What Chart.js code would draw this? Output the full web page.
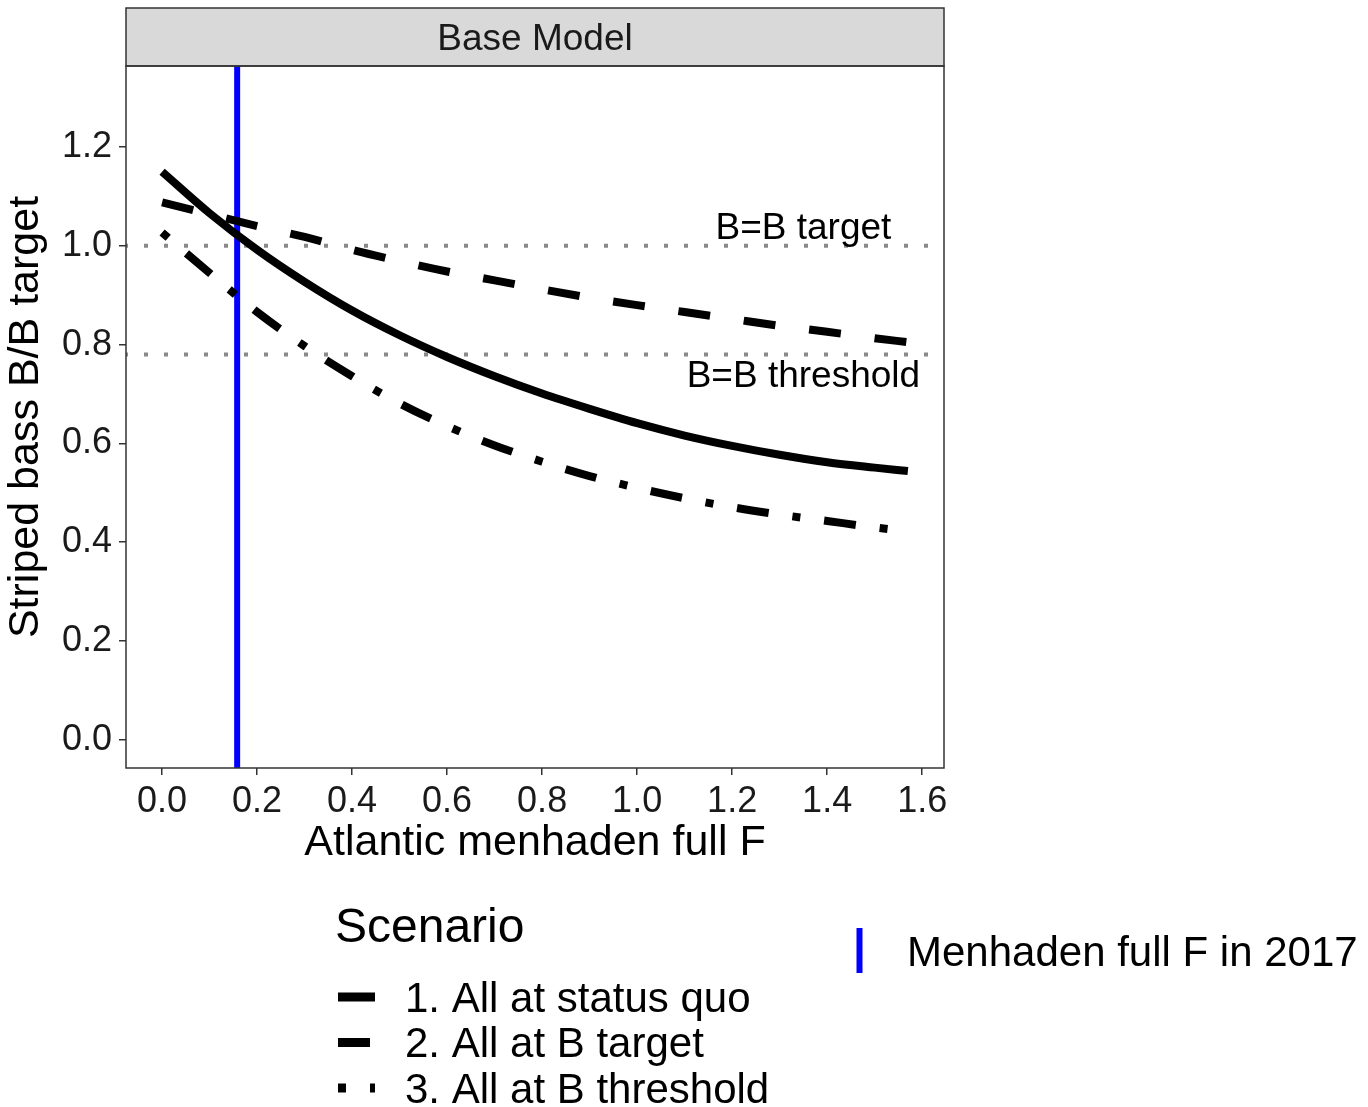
<!DOCTYPE html>
<html>
<head>
<meta charset="utf-8">
<script src="https://cdn.jsdelivr.net/npm/chart.js@4.4.0/dist/chart.umd.min.js"></script>
<style>
  html, body { margin: 0; padding: 0; background: #fff; }
  #wrap { width: 1368px; height: 1107px; }
</style>
</head>
<body>
<div id="wrap"><canvas id="bassChart" width="1368" height="1107"></canvas></div>
<script>
const fontFamily = "'Liberation Sans', Arial, sans-serif";

// menhaden full F (x) and striped bass B/B target for each scenario
const fishingF = [0, 0.1, 0.2, 0.3, 0.4, 0.5, 0.6, 0.7, 0.8, 0.9, 1.0, 1.1, 1.2, 1.3, 1.4, 1.5, 1.57];
const statusQuo = [1.150, 1.066, 0.992, 0.927, 0.869, 0.819, 0.775, 0.736, 0.701, 0.670, 0.641, 0.616, 0.595, 0.577, 0.562, 0.551, 0.544];
const atBTarget = [1.088, 1.064, 1.040, 1.018, 0.992, 0.969, 0.948, 0.930, 0.912, 0.895, 0.880, 0.866, 0.852, 0.838, 0.826, 0.813, 0.805];
const atBThreshold = [1.027, 0.945, 0.866, 0.797, 0.736, 0.681, 0.635, 0.596, 0.563, 0.534, 0.510, 0.489, 0.471, 0.456, 0.443, 0.430, 0.422];

const scenarioLabels = ['1. All at status quo', '2. All at B target', '3. All at B threshold'];
const scenarioDash = [[], [32, 34], [8, 24, 32, 24]];

const refLevels = [1.0, 0.78];
const refLabels = ['B=B target', 'B=B threshold'];
const refLabelX = [1.35, 1.35];
const refLabelY = [1.035, 0.735];

const menhadenF2017 = 0.158;
const menhadenLabel = 'Menhaden full F in 2017';

const xMin = -0.076, xMax = 1.646;
const yMin = -0.057, yMax = 1.364;

const toPoints = (ys) => ys.map((y, i) => ({ x: fishingF[i], y: y }));

const panelStrip = {
  id: 'panelStrip',
  afterDraw(chart) {
    const { ctx, chartArea } = chart;
    ctx.save();
    ctx.fillStyle = '#d9d9d9';
    ctx.fillRect(chartArea.left, 8, chartArea.right - chartArea.left, chartArea.top - 8);
    ctx.strokeStyle = '#333333';
    ctx.lineWidth = 1.5;
    ctx.strokeRect(chartArea.left, 8, chartArea.right - chartArea.left, chartArea.top - 8);
    ctx.strokeRect(chartArea.left, chartArea.top, chartArea.right - chartArea.left, chartArea.bottom - chartArea.top);
    ctx.fillStyle = '#1a1a1a';
    ctx.font = '37px ' + fontFamily;
    ctx.textAlign = 'center';
    ctx.textBaseline = 'middle';
    ctx.fillText('Base Model', (chartArea.left + chartArea.right) / 2, (8 + chartArea.top) / 2 + 3);
    ctx.restore();
  }
};

const refText = {
  id: 'refText',
  afterDatasetsDraw(chart) {
    const { ctx, scales } = chart;
    ctx.save();
    ctx.fillStyle = '#000';
    ctx.font = '37px ' + fontFamily;
    ctx.textAlign = 'center';
    ctx.textBaseline = 'middle';
    refLabels.forEach((t, i) => {
      ctx.fillText(t, scales.x.getPixelForValue(refLabelX[i]), scales.y.getPixelForValue(refLabelY[i]));
    });
    ctx.restore();
  }
};

const bottomLegend = {
  id: 'bottomLegend',
  afterDraw(chart) {
    const { ctx } = chart;
    ctx.save();
    ctx.fillStyle = '#000';
    ctx.textAlign = 'left';
    ctx.textBaseline = 'middle';
    ctx.font = '48px ' + fontFamily;
    ctx.fillText('Scenario', 335, 929);

    ctx.font = '42px ' + fontFamily;
    scenarioLabels.forEach((label, i) => {
      const y = 997 + i * 45.5;
      ctx.save();
      ctx.beginPath();
      ctx.rect(338, y - 10, 37, 20);
      ctx.clip();
      ctx.strokeStyle = '#000';
      ctx.lineWidth = 9;
      ctx.lineCap = 'butt';
      ctx.setLineDash(scenarioDash[i]);
      ctx.beginPath();
      ctx.moveTo(338, y);
      ctx.lineTo(375, y);
      ctx.stroke();
      ctx.restore();
      ctx.fillText(label, 405, y + 3);
    });

    ctx.strokeStyle = '#0000ff';
    ctx.lineWidth = 6;
    ctx.setLineDash([]);
    ctx.beginPath();
    ctx.moveTo(859.5, 928);
    ctx.lineTo(859.5, 973);
    ctx.stroke();
    ctx.fillText(menhadenLabel, 907, 954);
    ctx.restore();
  }
};

const bassChart = document.getElementById('bassChart');

const bassChart_1 = new Chart(bassChart, {
  type: 'line',
  data: {
    datasets: [
      {
        label: scenarioLabels[0],
        data: toPoints(statusQuo),
        borderColor: '#000',
        borderWidth: 8,
        borderCapStyle: 'butt',
        borderDash: scenarioDash[0],
        cubicInterpolationMode: 'monotone',
      },
      {
        label: scenarioLabels[1],
        data: toPoints(atBTarget),
        borderColor: '#000',
        borderWidth: 8,
        borderCapStyle: 'butt',
        borderDash: scenarioDash[1],
        cubicInterpolationMode: 'monotone',
      },
      {
        label: scenarioLabels[2],
        data: toPoints(atBThreshold),
        borderColor: '#000',
        borderWidth: 8,
        borderCapStyle: 'butt',
        borderDash: scenarioDash[2],
        cubicInterpolationMode: 'monotone',
      },
      {
        label: menhadenLabel,
        data: [{ x: menhadenF2017, y: yMin }, { x: menhadenF2017, y: yMax }],
        borderColor: '#0000ff',
        borderWidth: 6,
      },
      {
        label: refLabels[0],
        data: [{ x: xMin, y: refLevels[0] }, { x: xMax, y: refLevels[0] }],
        borderColor: '#8a8a8a',
        borderWidth: 4,
        borderDash: [4, 16],
        borderDashOffset: 2,
      },
      {
        label: refLabels[1],
        data: [{ x: xMin, y: refLevels[1] }, { x: xMax, y: refLevels[1] }],
        borderColor: '#8a8a8a',
        borderWidth: 4,
        borderDash: [4, 16],
        borderDashOffset: 2,
      }
    ],
  },
  options: {
    responsive: false,
    animation: false,
    events: [],
    layout: {
      padding: { left: 0, top: 66, right: 424, bottom: 238 }
    },
    elements: {
      point: {
        radius: 0
      }
    },
    scales: {
      x: {
        type: 'linear',
        min: xMin,
        max: xMax,
        afterFit: (scale) => { scale.height = 101; },
        border: { display: false },
        grid: {
          drawOnChartArea: false,
          tickLength: 7,
          color: '#333333',
          lineWidth: 1.5,
        },
        ticks: {
          stepSize: 0.2,
          includeBounds: false,
          autoSkip: false,
          maxRotation: 0,
          padding: 5,
          color: '#1a1a1a',
          font: { size: 36, family: fontFamily },
          callback: (v) => v.toFixed(1),
        },
        title: {
          display: true,
          text: 'Atlantic menhaden full F',
          color: '#000',
          padding: 0,
          font: { size: 43, family: fontFamily },
        }
      },
      y: {
        type: 'linear',
        min: yMin,
        max: yMax,
        afterFit: (scale) => { scale.width = 126; },
        border: { display: false },
        grid: {
          drawOnChartArea: false,
          tickLength: 7,
          color: '#333333',
          lineWidth: 1.5,
        },
        ticks: {
          stepSize: 0.2,
          includeBounds: false,
          padding: 7,
          color: '#1a1a1a',
          font: { size: 36, family: fontFamily },
          callback: (v) => v.toFixed(1),
        },
        title: {
          display: true,
          text: 'Striped bass B/B target',
          color: '#000',
          padding: 0,
          font: { size: 43, family: fontFamily },
        }
      }
    },
    plugins: {
      legend: { display: false },
      tooltip: { enabled: false }
    }
  },
  plugins: [panelStrip, refText, bottomLegend]
});
</script>
</body>
</html>
